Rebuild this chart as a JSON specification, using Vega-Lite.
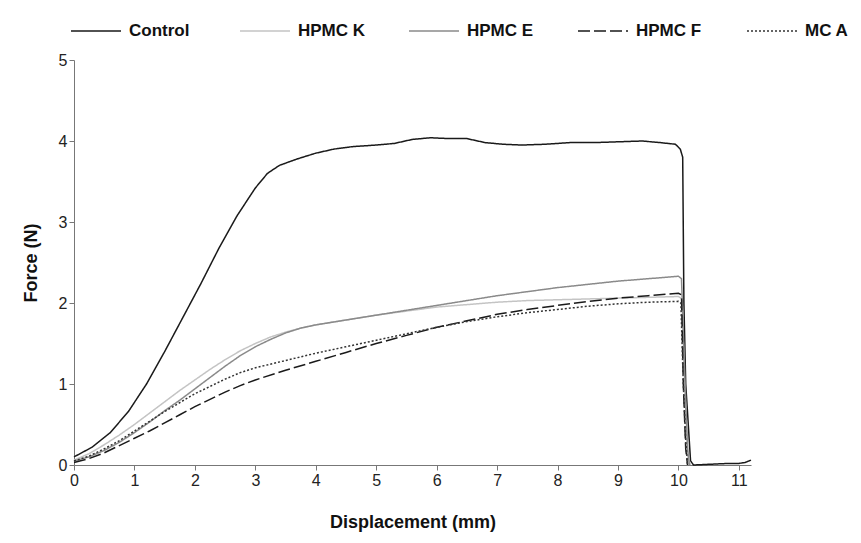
{
  "$schema": "https://vega.github.io/schema/vega-lite/v6.json",
  "width": 677,
  "height": 405,
  "autosize": {"type": "none"},
  "padding": {"left": 74, "top": 60, "right": 110, "bottom": 78},
  "background": "white",
  "config": {
    "view": {"stroke": null},
    "font": "Liberation Sans",
    "axis": {
      "grid": false,
      "domainColor": "#777777",
      "tickColor": "#777777",
      "tickSize": 5,
      "labelColor": "#222222",
      "labelFont": "Liberation Sans",
      "labelFontSize": 16,
      "titleFont": "Liberation Sans",
      "titleFontSize": 18,
      "titleFontWeight": "bold",
      "titleColor": "#111111"
    },
    "legend": {
      "labelFont": "Liberation Sans",
      "labelFontSize": 17,
      "labelFontWeight": "bold",
      "labelColor": "#111111"
    }
  },
  "data": {
    "values": [
      {"s": "Control", "x": 0, "y": 0.1},
      {"s": "Control", "x": 0.3, "y": 0.22},
      {"s": "Control", "x": 0.6, "y": 0.4},
      {"s": "Control", "x": 0.9, "y": 0.66},
      {"s": "Control", "x": 1.2, "y": 1.0},
      {"s": "Control", "x": 1.5, "y": 1.4},
      {"s": "Control", "x": 1.8, "y": 1.82},
      {"s": "Control", "x": 2.1, "y": 2.24},
      {"s": "Control", "x": 2.4, "y": 2.68},
      {"s": "Control", "x": 2.7, "y": 3.08},
      {"s": "Control", "x": 3.0, "y": 3.42},
      {"s": "Control", "x": 3.2, "y": 3.6},
      {"s": "Control", "x": 3.4, "y": 3.7},
      {"s": "Control", "x": 3.7, "y": 3.78},
      {"s": "Control", "x": 4.0, "y": 3.85},
      {"s": "Control", "x": 4.3, "y": 3.9},
      {"s": "Control", "x": 4.6, "y": 3.93},
      {"s": "Control", "x": 5.0, "y": 3.95},
      {"s": "Control", "x": 5.3, "y": 3.97},
      {"s": "Control", "x": 5.6, "y": 4.02},
      {"s": "Control", "x": 5.9, "y": 4.04},
      {"s": "Control", "x": 6.2, "y": 4.03},
      {"s": "Control", "x": 6.5, "y": 4.03},
      {"s": "Control", "x": 6.8, "y": 3.98},
      {"s": "Control", "x": 7.1, "y": 3.96},
      {"s": "Control", "x": 7.4, "y": 3.95},
      {"s": "Control", "x": 7.8, "y": 3.96},
      {"s": "Control", "x": 8.2, "y": 3.98},
      {"s": "Control", "x": 8.6, "y": 3.98},
      {"s": "Control", "x": 9.0, "y": 3.99},
      {"s": "Control", "x": 9.4, "y": 4.0},
      {"s": "Control", "x": 9.7, "y": 3.98},
      {"s": "Control", "x": 9.95, "y": 3.96},
      {"s": "Control", "x": 10.03, "y": 3.9},
      {"s": "Control", "x": 10.07, "y": 3.8},
      {"s": "Control", "x": 10.09, "y": 2.0},
      {"s": "Control", "x": 10.12, "y": 1.0},
      {"s": "Control", "x": 10.2, "y": 0.05},
      {"s": "Control", "x": 10.25, "y": 0},
      {"s": "Control", "x": 10.85, "y": 0.02},
      {"s": "Control", "x": 11.0, "y": 0.02},
      {"s": "Control", "x": 11.1, "y": 0.03},
      {"s": "Control", "x": 11.2, "y": 0.06},

      {"s": "HPMC K", "x": 0, "y": 0.06},
      {"s": "HPMC K", "x": 0.25, "y": 0.14},
      {"s": "HPMC K", "x": 0.5, "y": 0.25},
      {"s": "HPMC K", "x": 0.75, "y": 0.37},
      {"s": "HPMC K", "x": 1, "y": 0.5},
      {"s": "HPMC K", "x": 1.25, "y": 0.64},
      {"s": "HPMC K", "x": 1.5, "y": 0.78},
      {"s": "HPMC K", "x": 1.75, "y": 0.92},
      {"s": "HPMC K", "x": 2, "y": 1.05},
      {"s": "HPMC K", "x": 2.25, "y": 1.18},
      {"s": "HPMC K", "x": 2.5, "y": 1.3},
      {"s": "HPMC K", "x": 2.75, "y": 1.41},
      {"s": "HPMC K", "x": 3, "y": 1.5},
      {"s": "HPMC K", "x": 3.25, "y": 1.58},
      {"s": "HPMC K", "x": 3.5, "y": 1.64},
      {"s": "HPMC K", "x": 3.75, "y": 1.69},
      {"s": "HPMC K", "x": 4, "y": 1.73},
      {"s": "HPMC K", "x": 4.5, "y": 1.79},
      {"s": "HPMC K", "x": 5, "y": 1.85},
      {"s": "HPMC K", "x": 5.5, "y": 1.9},
      {"s": "HPMC K", "x": 6, "y": 1.95},
      {"s": "HPMC K", "x": 6.5, "y": 1.98},
      {"s": "HPMC K", "x": 7, "y": 2.01},
      {"s": "HPMC K", "x": 7.5, "y": 2.03},
      {"s": "HPMC K", "x": 8, "y": 2.04},
      {"s": "HPMC K", "x": 8.5, "y": 2.05},
      {"s": "HPMC K", "x": 9, "y": 2.06},
      {"s": "HPMC K", "x": 9.5, "y": 2.07},
      {"s": "HPMC K", "x": 10, "y": 2.08},
      {"s": "HPMC K", "x": 10.06, "y": 2.05},
      {"s": "HPMC K", "x": 10.1, "y": 1.0},
      {"s": "HPMC K", "x": 10.16, "y": 0.1},
      {"s": "HPMC K", "x": 10.2, "y": 0},

      {"s": "HPMC E", "x": 0, "y": 0.05},
      {"s": "HPMC E", "x": 0.25, "y": 0.1},
      {"s": "HPMC E", "x": 0.5, "y": 0.18},
      {"s": "HPMC E", "x": 0.75, "y": 0.28},
      {"s": "HPMC E", "x": 1, "y": 0.4},
      {"s": "HPMC E", "x": 1.25, "y": 0.53},
      {"s": "HPMC E", "x": 1.5, "y": 0.67},
      {"s": "HPMC E", "x": 1.75, "y": 0.8},
      {"s": "HPMC E", "x": 2, "y": 0.94},
      {"s": "HPMC E", "x": 2.25, "y": 1.08},
      {"s": "HPMC E", "x": 2.5, "y": 1.22},
      {"s": "HPMC E", "x": 2.75, "y": 1.35},
      {"s": "HPMC E", "x": 3, "y": 1.46},
      {"s": "HPMC E", "x": 3.25, "y": 1.55},
      {"s": "HPMC E", "x": 3.5, "y": 1.63},
      {"s": "HPMC E", "x": 3.75, "y": 1.69},
      {"s": "HPMC E", "x": 4, "y": 1.73},
      {"s": "HPMC E", "x": 4.5, "y": 1.79},
      {"s": "HPMC E", "x": 5, "y": 1.85},
      {"s": "HPMC E", "x": 5.5, "y": 1.91},
      {"s": "HPMC E", "x": 6, "y": 1.97},
      {"s": "HPMC E", "x": 6.5, "y": 2.03},
      {"s": "HPMC E", "x": 7, "y": 2.09},
      {"s": "HPMC E", "x": 7.5, "y": 2.14},
      {"s": "HPMC E", "x": 8, "y": 2.19},
      {"s": "HPMC E", "x": 8.5, "y": 2.23},
      {"s": "HPMC E", "x": 9, "y": 2.27},
      {"s": "HPMC E", "x": 9.5, "y": 2.3},
      {"s": "HPMC E", "x": 10, "y": 2.33},
      {"s": "HPMC E", "x": 10.05, "y": 2.3},
      {"s": "HPMC E", "x": 10.1, "y": 1.2},
      {"s": "HPMC E", "x": 10.15, "y": 0.2},
      {"s": "HPMC E", "x": 10.18, "y": 0},

      {"s": "HPMC F", "x": 0, "y": 0.03},
      {"s": "HPMC F", "x": 0.25, "y": 0.08},
      {"s": "HPMC F", "x": 0.5, "y": 0.15},
      {"s": "HPMC F", "x": 0.75, "y": 0.24},
      {"s": "HPMC F", "x": 1, "y": 0.33},
      {"s": "HPMC F", "x": 1.25, "y": 0.42},
      {"s": "HPMC F", "x": 1.5, "y": 0.52},
      {"s": "HPMC F", "x": 1.75, "y": 0.62},
      {"s": "HPMC F", "x": 2, "y": 0.72},
      {"s": "HPMC F", "x": 2.25, "y": 0.81},
      {"s": "HPMC F", "x": 2.5, "y": 0.9},
      {"s": "HPMC F", "x": 2.75, "y": 0.98},
      {"s": "HPMC F", "x": 3, "y": 1.05},
      {"s": "HPMC F", "x": 3.5, "y": 1.17},
      {"s": "HPMC F", "x": 4, "y": 1.28},
      {"s": "HPMC F", "x": 4.5, "y": 1.39},
      {"s": "HPMC F", "x": 5, "y": 1.5},
      {"s": "HPMC F", "x": 5.5, "y": 1.6},
      {"s": "HPMC F", "x": 6, "y": 1.7},
      {"s": "HPMC F", "x": 6.5, "y": 1.78},
      {"s": "HPMC F", "x": 7, "y": 1.86},
      {"s": "HPMC F", "x": 7.5, "y": 1.92},
      {"s": "HPMC F", "x": 8, "y": 1.97},
      {"s": "HPMC F", "x": 8.5, "y": 2.02},
      {"s": "HPMC F", "x": 9, "y": 2.06},
      {"s": "HPMC F", "x": 9.5, "y": 2.09},
      {"s": "HPMC F", "x": 10, "y": 2.12},
      {"s": "HPMC F", "x": 10.05, "y": 2.1},
      {"s": "HPMC F", "x": 10.08, "y": 1.0},
      {"s": "HPMC F", "x": 10.12, "y": 0.2},
      {"s": "HPMC F", "x": 10.15, "y": 0},

      {"s": "MC A", "x": 0, "y": 0.05},
      {"s": "MC A", "x": 0.25, "y": 0.11},
      {"s": "MC A", "x": 0.5, "y": 0.2},
      {"s": "MC A", "x": 0.75, "y": 0.3},
      {"s": "MC A", "x": 1, "y": 0.42},
      {"s": "MC A", "x": 1.25, "y": 0.54},
      {"s": "MC A", "x": 1.5, "y": 0.66},
      {"s": "MC A", "x": 1.75, "y": 0.77},
      {"s": "MC A", "x": 2, "y": 0.88},
      {"s": "MC A", "x": 2.25, "y": 0.97},
      {"s": "MC A", "x": 2.5, "y": 1.06},
      {"s": "MC A", "x": 2.75, "y": 1.14},
      {"s": "MC A", "x": 3, "y": 1.2},
      {"s": "MC A", "x": 3.5, "y": 1.29},
      {"s": "MC A", "x": 4, "y": 1.38},
      {"s": "MC A", "x": 4.5, "y": 1.46},
      {"s": "MC A", "x": 5, "y": 1.54},
      {"s": "MC A", "x": 5.5, "y": 1.62},
      {"s": "MC A", "x": 6, "y": 1.7},
      {"s": "MC A", "x": 6.5, "y": 1.77},
      {"s": "MC A", "x": 7, "y": 1.83},
      {"s": "MC A", "x": 7.5, "y": 1.88},
      {"s": "MC A", "x": 8, "y": 1.92},
      {"s": "MC A", "x": 8.5, "y": 1.96},
      {"s": "MC A", "x": 9, "y": 1.99},
      {"s": "MC A", "x": 9.5, "y": 2.01},
      {"s": "MC A", "x": 10, "y": 2.02},
      {"s": "MC A", "x": 10.04, "y": 2.0},
      {"s": "MC A", "x": 10.08, "y": 1.0},
      {"s": "MC A", "x": 10.12, "y": 0.3},
      {"s": "MC A", "x": 10.15, "y": 0}
    ]
  },
  "mark": {"type": "line", "strokeWidth": 1.5},
  "encoding": {
    "x": {
      "field": "x",
      "type": "quantitative",
      "scale": {"domain": [0, 11.2], "nice": false, "zero": false},
      "axis": {"title": "Displacement (mm)", "values": [0,1,2,3,4,5,6,7,8,9,10,11], "titlePadding": 25, "labelFlush": false}
    },
    "y": {
      "field": "y",
      "type": "quantitative",
      "scale": {"domain": [0, 5], "nice": false},
      "axis": {"title": "Force (N)", "values": [0,1,2,3,4,5], "titlePadding": 18}
    },
    "color": {
      "field": "s",
      "type": "nominal",
      "scale": {
        "domain": ["Control", "HPMC K", "HPMC E", "HPMC F", "MC A"],
        "range": ["#1a1a1a", "#c4c4c4", "#8a8a8a", "#1a1a1a", "#333333"]
      },
      "legend": {
        "title": null,
        "orient": "none",
        "legendX": -4,
        "legendY": -55,
        "direction": "horizontal",
        "columns": 5,
        "gridAlign": "all",
        "columnPadding": 40,
        "symbolType": "stroke",
        "symbolSize": 2500,
        "symbolStrokeWidth": 1.5,
        "labelOffset": 7
      }
    },
    "strokeDash": {
      "field": "s",
      "type": "nominal",
      "scale": {
        "domain": ["Control", "HPMC K", "HPMC E", "HPMC F", "MC A"],
        "range": [[1, 0], [1, 0], [1, 0], [12, 4], [2, 2]]
      },
      "legend": null
    }
  }
}
